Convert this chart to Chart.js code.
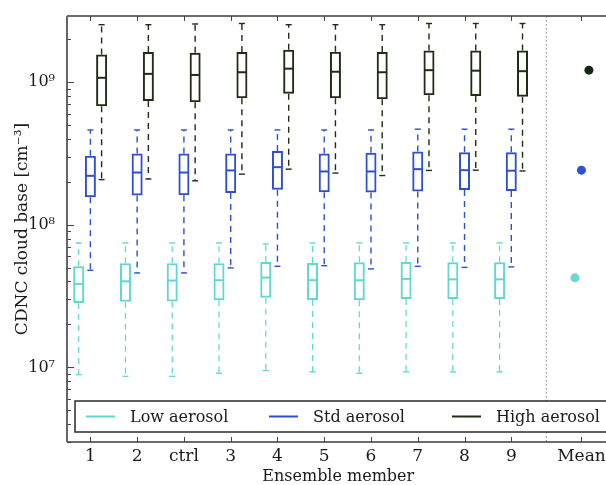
<!DOCTYPE html>
<html>
<head>
<meta charset="utf-8">
<script src="https://cdn.jsdelivr.net/npm/chart.js@4.4.1/dist/chart.umd.min.js"></script>
<style>
  html, body { margin: 0; padding: 0; overflow: hidden; background: #fff; }
  #wrap { width: 614px; height: 485px; }
</style>
</head>
<body>
<div id="wrap"><canvas id="cdnc" width="614" height="485"></canvas></div>
<script>
// ensemble members on the x axis, plus the mean column on the right
const members = ['1', '2', 'ctrl', '3', '4', '5', '6', '7', '8', '9'];
const meanLabel = 'Mean';
const memberPos = [1, 2, 3, 4, 5, 6, 7, 8, 9, 10];
const meanPos = 11.5;
const yTicks = [1e7, 1e8, 1e9];

// low aerosol
const lowMin = [8.9e6, 8.65e6, 8.65e6, 9.1e6, 9.5e6, 9.3e6, 9.1e6, 9.3e6, 9.3e6, 9.3e6];
const lowQ1  = [2.83e7, 2.88e7, 2.90e7, 2.96e7, 3.07e7, 2.97e7, 2.96e7, 3.02e7, 3.02e7, 3.02e7];
const lowMed = [3.85e7, 4.01e7, 4.06e7, 4.08e7, 4.26e7, 4.08e7, 4.08e7, 4.17e7, 4.14e7, 4.14e7];
const lowQ3  = [5.11e7, 5.36e7, 5.36e7, 5.36e7, 5.48e7, 5.39e7, 5.45e7, 5.48e7, 5.45e7, 5.45e7];
const lowMax = [7.45e7, 7.45e7, 7.45e7, 7.45e7, 7.33e7, 7.45e7, 7.45e7, 7.45e7, 7.45e7, 7.45e7];
const lowMean = 4.24e7;

// standard aerosol
const stdMin = [4.79e7, 4.59e7, 4.59e7, 4.98e7, 5.11e7, 5.16e7, 4.90e7, 5.11e7, 5.02e7, 5.06e7];
const stdQ1  = [1.56e8, 1.60e8, 1.61e8, 1.67e8, 1.76e8, 1.69e8, 1.68e8, 1.71e8, 1.75e8, 1.72e8];
const stdMed = [2.20e8, 2.32e8, 2.32e8, 2.40e8, 2.53e8, 2.36e8, 2.36e8, 2.45e8, 2.41e8, 2.39e8];
const stdQ3  = [3.04e8, 3.16e8, 3.16e8, 3.16e8, 3.29e8, 3.16e8, 3.19e8, 3.26e8, 3.22e8, 3.22e8];
const stdMax = [4.61e8, 4.61e8, 4.61e8, 4.61e8, 4.61e8, 4.61e8, 4.61e8, 4.67e8, 4.67e8, 4.67e8];
const stdMean = 2.41e8;

// high aerosol
const highMin = [2.07e8, 2.09e8, 2.03e8, 2.26e8, 2.45e8, 2.30e8, 2.21e8, 2.40e8, 2.41e8, 2.38e8];
const highQ1  = [6.76e8, 7.36e8, 7.21e8, 7.69e8, 8.28e8, 7.69e8, 7.57e8, 8.07e8, 7.98e8, 7.89e8];
const highMed = [1.07e9, 1.14e9, 1.12e9, 1.17e9, 1.24e9, 1.18e9, 1.17e9, 1.21e9, 1.20e9, 1.19e9];
const highQ3  = [1.56e9, 1.62e9, 1.60e9, 1.62e9, 1.68e9, 1.63e9, 1.62e9, 1.66e9, 1.66e9, 1.66e9];
const highMax = [2.52e9, 2.52e9, 2.55e9, 2.57e9, 2.52e9, 2.52e9, 2.52e9, 2.57e9, 2.57e9, 2.57e9];
const highMean = 1.21e9;

const FONT = 'DejaVu Serif';
const INK = '#1a1a1a';

const series = [
  { label: 'Low aerosol', color: '#5fd8ce', dot: '#6cd9d0', shift: -0.25, meanShift: -0.14,
    min: lowMin, q1: lowQ1, med: lowMed, q3: lowQ3, max: lowMax, mean: lowMean },
  { label: 'Std aerosol', color: '#2f4fd3', dot: '#2c50d8', shift: 0, meanShift: 0,
    min: stdMin, q1: stdQ1, med: stdMed, q3: stdQ3, max: stdMax, mean: stdMean },
  { label: 'High aerosol', color: '#1f2d14', dot: '#13290f', shift: 0.24, meanShift: 0.16,
    min: highMin, q1: highQ1, med: highMed, q3: highQ3, max: highMax, mean: highMean }
];

const tickPos = memberPos.concat([meanPos]);
const tickText = members.concat([meanLabel]);
const supDigits = { '-': '⁻', '0': '⁰', '1': '¹', '2': '²', '3': '³', '4': '⁴', '5': '⁵', '6': '⁶', '7': '⁷', '8': '⁸', '9': '⁹' };
function pow10Label(v) {
  const e = String(Math.round(Math.log10(v)));
  return '10' + e.split('').map(c => supDigits[c]).join('');
}

// boxes are floating bars; whiskers and medians go on top of them
const boxSets = series.map(s => ({
  type: 'bar',
  label: s.label,
  data: memberPos.map((p, i) => ({ x: p + s.shift, y: [s.q1[i], s.q3[i]] })),
  backgroundColor: 'rgba(255,255,255,0)',
  borderColor: s.color,
  borderWidth: 2,
  borderSkipped: false,
  barThickness: 11,
  grouped: false,
  inflateAmount: 0
}));

const meanSets = series.map(s => ({
  type: 'line',
  label: s.label + ' mean',
  data: [{ x: meanPos + s.meanShift, y: s.mean }],
  showLine: false,
  pointRadius: 4.5,
  pointBackgroundColor: s.dot,
  pointBorderWidth: 0
}));

function seg(ctx, x1, y1, x2, y2) {
  ctx.beginPath();
  ctx.moveTo(x1, y1);
  ctx.lineTo(x2, y2);
  ctx.stroke();
}

const whiskers = {
  id: 'whiskers',
  afterDatasetsDraw(chart) {
    const { ctx, scales: { y } } = chart;
    series.forEach((s, k) => {
      const meta = chart.getDatasetMeta(k);
      ctx.save();
      ctx.strokeStyle = s.color;
      meta.data.forEach((bar, i) => {
        const cx = bar.x;
        const half = bar.width / 2;
        const yMin = y.getPixelForValue(s.min[i]);
        const yQ1 = y.getPixelForValue(s.q1[i]);
        const yMed = y.getPixelForValue(s.med[i]);
        const yQ3 = y.getPixelForValue(s.q3[i]);
        const yMax = y.getPixelForValue(s.max[i]);
        ctx.setLineDash([]);
        ctx.lineWidth = 2;
        seg(ctx, cx - half + 1, yMed, cx + half - 1, yMed);
        ctx.lineWidth = k === 0 ? 1.2 : 1.4;
        ctx.setLineDash([6, 5]);
        seg(ctx, cx, yQ3, cx, yMax);
        seg(ctx, cx, yQ1, cx, yMin);
        ctx.setLineDash([]);
        ctx.lineWidth = 1.4;
        seg(ctx, cx - 3, yMax, cx + 3, yMax);
        seg(ctx, cx - 3, yMin, cx + 3, yMin);
      });
      ctx.restore();
    });
  }
};

const frame = {
  id: 'frame',
  afterDraw(chart) {
    const { ctx, chartArea: ca, scales: { x, y } } = chart;
    ctx.save();

    // dotted separator before the mean column
    const sx = x.getPixelForValue(10.75);
    ctx.strokeStyle = '#9a9a9a';
    ctx.lineWidth = 1.2;
    ctx.setLineDash([1.5, 2.5]);
    seg(ctx, sx, ca.top, sx, ca.bottom);
    ctx.setLineDash([]);

    // legend box along the bottom
    const lx = ca.left + 8, ly = ca.bottom - 41, lh = 31;
    ctx.fillStyle = '#fff';
    ctx.fillRect(lx, ly, ca.right - lx + 10, lh);
    ctx.strokeStyle = '#2a2a2a';
    ctx.lineWidth = 1.5;
    ctx.strokeRect(lx, ly, ca.right - lx + 10, lh);
    const entryX = [11, 194, 377];
    ctx.font = '16px "' + FONT + '"';
    ctx.textBaseline = 'middle';
    ctx.textAlign = 'left';
    series.forEach((s, k) => {
      const ex = lx + entryX[k];
      const ey = ly + lh / 2;
      ctx.strokeStyle = s.color;
      ctx.lineWidth = 2;
      seg(ctx, ex, ey, ex + 29, ey);
      ctx.fillStyle = INK;
      ctx.fillText(s.label, ex + 44, ey + 1);
    });

    // axes frame
    ctx.strokeStyle = '#3a3a3a';
    ctx.lineWidth = 1.5;
    seg(ctx, ca.left, ca.top, ca.right, ca.top);
    seg(ctx, ca.left, ca.bottom, ca.right, ca.bottom);
    seg(ctx, ca.right, ca.top, ca.right, ca.bottom);
    ctx.strokeStyle = '#666';
    ctx.lineWidth = 2;
    seg(ctx, ca.left, ca.top, ca.left, ca.bottom);

    // inward ticks
    ctx.strokeStyle = '#444';
    ctx.lineWidth = 1;
    for (let e = 6; e <= 9; e++) {
      for (let m = 1; m <= 9; m++) {
        const v = m * Math.pow(10, e);
        if (v < y.min || v > y.max) continue;
        const py = Math.round(y.getPixelForValue(v)) + 0.5;
        const len = m === 1 ? 7 : 4;
        seg(ctx, ca.left, py, ca.left + len, py);
      }
    }
    tickPos.forEach(p => {
      const px = Math.round(x.getPixelForValue(p)) + 0.5;
      seg(ctx, px, ca.top, px, ca.top + 5);
      seg(ctx, px, ca.bottom, px, ca.bottom - 5);
    });
    ctx.restore();
  }
};

new Chart(document.getElementById('cdnc'), {
  type: 'bar',
  data: { datasets: boxSets.concat(meanSets) },
  options: {
    responsive: false,
    animation: false,
    devicePixelRatio: 1,
    layout: { padding: { top: 16, right: 4, left: 0, bottom: 0 } },
    plugins: { legend: { display: false }, tooltip: { enabled: false } },
    scales: {
      x: {
        type: 'linear',
        offset: false,
        min: 0.5,
        max: 12.1,
        grid: { display: false, drawTicks: false, offset: false },
        border: { display: false },
        afterBuildTicks: s => { s.ticks = tickPos.map(v => ({ value: v })); },
        afterFit: s => { s.height = 43; s.paddingLeft = 0; s.paddingRight = 0; },
        ticks: {
          autoSkip: false,
          maxRotation: 0,
          padding: 4,
          color: INK,
          font: { family: FONT, size: 17 },
          callback: (v, i) => tickText[i]
        },
        title: {
          display: true,
          text: 'Ensemble member',
          color: INK,
          font: { family: FONT, size: 16, lineHeight: 1 },
          padding: 0
        }
      },
      y: {
        type: 'logarithmic',
        min: 3e6,
        max: 2.9e9,
        grid: { display: false, drawTicks: false },
        border: { display: false },
        afterBuildTicks: s => { s.ticks = yTicks.map(v => ({ value: v })); },
        afterFit: s => { s.width = 67; s.paddingTop = 0; s.paddingBottom = 0; },
        ticks: {
          padding: 12,
          color: INK,
          font: { family: FONT, size: 16 },
          callback: v => pow10Label(v)
        },
        title: {
          display: true,
          text: 'CDNC cloud base [cm⁻³]',
          color: INK,
          font: { family: FONT, size: 17 },
          padding: { top: 12, bottom: 0 }
        }
      }
    }
  },
  plugins: [whiskers, frame]
});
</script>
</body>
</html>
